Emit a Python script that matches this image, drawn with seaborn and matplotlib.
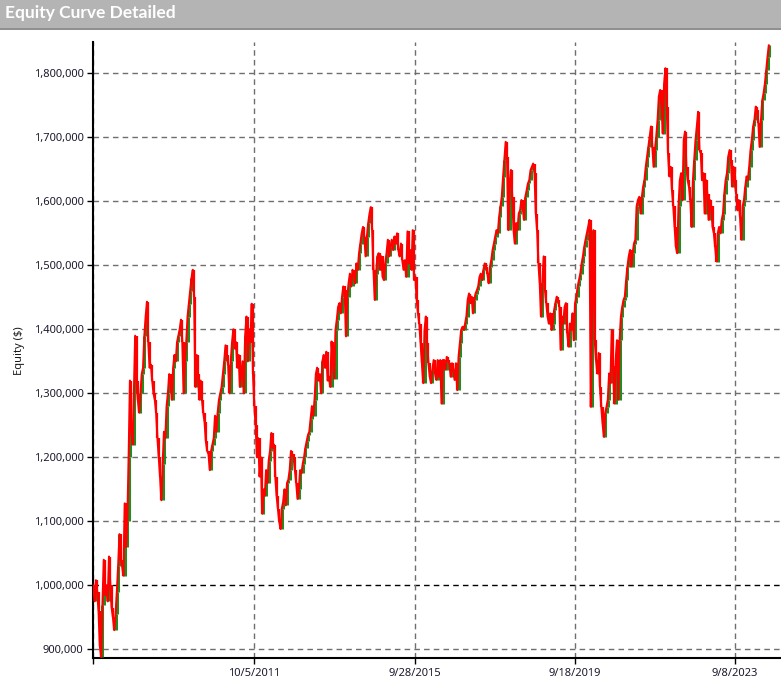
import numpy as np
import pandas as pd
import matplotlib
matplotlib.use("Agg")
import matplotlib.pyplot as plt
import seaborn as sns

# Equity values in thousands of dollars left to right
equity_k = [
    1000, 975, 1008, 990, 960, 905, 888, 970, 1040, 985, 1000, 975, 1045, 1000, 965, 950,
    930, 955, 990, 1030, 1080, 1040, 1030, 1015, 1128, 1060, 1100, 1200, 1320, 1240, 1220,
    1300, 1390, 1320, 1290, 1270, 1300, 1330, 1340, 1390, 1420, 1443, 1380, 1340, 1345, 1320,
    1300, 1290, 1270, 1230, 1200, 1170, 1133, 1190, 1240, 1230, 1280, 1300, 1330, 1320, 1290,
    1340, 1360, 1350, 1380, 1390, 1400, 1415, 1380, 1300, 1350, 1380, 1420, 1440, 1460, 1480,
    1493, 1450, 1310, 1360, 1330, 1290, 1320, 1290, 1270, 1255, 1225, 1210, 1205, 1180, 1210,
    1220, 1230, 1265, 1240, 1270, 1290, 1300, 1310, 1330, 1350, 1375, 1360, 1345, 1300, 1350,
    1380, 1400, 1370, 1380, 1340, 1360, 1310, 1330, 1350, 1300, 1390, 1420, 1350, 1400, 1380,
    1440, 1330, 1280, 1250, 1200, 1230, 1170, 1200, 1112, 1150, 1140, 1180, 1160, 1195, 1210,
    1238, 1215, 1220, 1170, 1140, 1120, 1100, 1088, 1120, 1130, 1150, 1125, 1160, 1165, 1180,
    1210, 1205, 1200, 1180, 1160, 1135, 1150, 1180, 1175, 1190, 1200, 1215, 1225, 1235, 1240,
    1260, 1280, 1265, 1290, 1330, 1340, 1320, 1330, 1300, 1350, 1360, 1340, 1365, 1320,
    # 2011 - 2019
    1326, 1310, 1381, 1347, 1323, 1399, 1415, 1435, 1441, 1425, 1451, 1467, 1461, 1389, 1451,
    1472, 1487, 1467, 1493, 1487, 1472, 1503, 1493, 1519, 1534, 1550, 1560, 1545, 1514, 1545,
    1566, 1581, 1591, 1555, 1493, 1446, 1487, 1514, 1519, 1493, 1514, 1482, 1477, 1503, 1519,
    1540, 1514, 1529, 1540, 1524, 1545, 1534, 1550, 1524, 1514, 1534, 1508, 1493, 1508, 1482,
    1553, 1503, 1524, 1493, 1555, 1477, 1482, 1446, 1425, 1409, 1378, 1347, 1316, 1399, 1420,
    1378, 1347, 1326, 1316, 1337, 1352, 1331, 1321, 1352, 1326, 1352, 1284, 1352, 1352, 1337,
    1357, 1352, 1347, 1326, 1347, 1337, 1321, 1347, 1305, 1357, 1378, 1399, 1404, 1399, 1409,
    1420, 1446, 1456, 1441, 1451, 1425, 1446, 1456, 1461, 1467, 1482, 1487, 1477, 1493, 1503,
    1498, 1487, 1472, 1498, 1508, 1524, 1534, 1545, 1555, 1550, 1576, 1592, 1607, 1638, 1665,
    1693, 1670, 1555, 1628, 1649, 1607, 1555, 1534, 1566, 1555, 1581, 1586, 1602, 1591, 1571,
    1607, 1617, 1628, 1633, 1649, 1654, 1659, 1644, 1581, 1555, 1503, 1472, 1420, 1472, 1514,
    1461, 1441, 1420, 1409, 1425, 1399, 1409, 1430, 1441, 1451,
    # 2019 - 2024
    1446, 1435, 1368, 1420, 1409, 1435, 1441, 1394, 1373, 1409, 1399, 1425, 1383, 1441, 1451,
    1467, 1477, 1487, 1503, 1514, 1529, 1540, 1550, 1560, 1571, 1279, 1435, 1555, 1383, 1352,
    1331, 1363, 1310, 1279, 1253, 1232, 1269, 1279, 1290, 1331, 1316, 1399, 1342, 1284, 1352,
    1383, 1290, 1383, 1420, 1435, 1446, 1451, 1477, 1498, 1514, 1524, 1498, 1519, 1534, 1540,
    1592, 1602, 1607, 1581, 1607, 1623, 1633, 1654, 1670, 1685, 1701, 1717, 1685, 1654, 1680,
    1701, 1727, 1764, 1774, 1748, 1706, 1784, 1808, 1748, 1675, 1639, 1654, 1618, 1592, 1560,
    1529, 1519, 1592, 1633, 1644, 1602, 1696, 1709, 1654, 1633, 1623, 1602, 1560, 1633, 1665,
    1696, 1717, 1740, 1680, 1675, 1633, 1644, 1581, 1633, 1612, 1571, 1602, 1592, 1560, 1550,
    1529, 1506, 1550, 1560, 1550, 1571, 1581, 1612, 1633, 1644, 1670, 1680, 1665, 1623, 1654,
    1633, 1612, 1586, 1602, 1576, 1540, 1592, 1602, 1623, 1639, 1633, 1654, 1680, 1696, 1717,
    1727, 1748, 1743, 1722, 1685, 1727, 1758, 1769, 1784, 1805, 1826, 1844,
]

tick_dates = ["2011-10-05", "2015-09-28", "2019-09-18", "2023-09-08"]
tick_labels = ["10/5/2011", "9/28/2015", "9/18/2019", "9/8/2023"]
start_date = "2007-10-06"
end_date = "2024-07-10"

equity = np.array(equity_k) * 1000
dates = pd.date_range(start_date, end_date, periods=len(equity))
df = pd.DataFrame({"date": dates, "equity": equity})

sns.set_style("white")
plt.rcParams["font.family"] = ["Noto Sans", "DejaVu Sans"]

fig = plt.figure(figsize=(7.81, 6.86), dpi=100)

# Title bar
fig.patches.append(plt.Rectangle((0, 1 - 28 / 686), 1, 28 / 686, transform=fig.transFigure,
                                 facecolor="#b4b4b4", edgecolor="none", zorder=0))
fig.lines.append(plt.Line2D([0, 1], [1 - 28.5 / 686] * 2, transform=fig.transFigure,
                            color="#7a7a7a", lw=1.2))
fig.text(0.007, 1 - 13 / 686, "Equity Curve Detailed", color="white", fontsize=12.5,
         fontweight="bold", va="center", ha="left", family=["Lato", "DejaVu Sans"])

ax = fig.add_axes([93.3 / 781, 1 - 658.3 / 686, 1 - 93.3 / 781, (658.3 - 42) / 686])

prev = df["equity"].shift(1)
up = df["equity"] > prev
dn = df["equity"] < prev
# green up-moves underneath, red curve and red down-moves on top
ax.vlines(df["date"][up], prev[up], df["equity"][up], colors="#228b22", lw=2.2, zorder=3)
sns.lineplot(data=df, x="date", y="equity", color="#ff0000", lw=1.5, ax=ax, zorder=4)
ax.vlines(df["date"][dn], df["equity"][dn], prev[dn], colors="#ff0000", lw=1.6, zorder=5)

ax.set_ylim(886000, 1849000)
x0 = pd.Timestamp(start_date)
ax.set_xlim(x0, pd.Timestamp(end_date) + pd.Timedelta(days=110))

yt = np.arange(900000, 1800001, 100000)
ax.set_yticks(yt)
ax.set_yticklabels([f"{v:,.0f}" for v in yt])
xt = [x0] + [pd.Timestamp(d) for d in tick_dates]
ax.set_xticks(xt)
ax.set_xticklabels([""] + tick_labels)

for v in yt:
    ax.axhline(v, color="black" if v == 1000000 else "#6e6e6e", lw=1,
               ls=(0, (4, 3)), zorder=1)
for d in xt:
    ax.axvline(d, color="#6e6e6e", lw=1, ls=(0, (4, 3)), zorder=1)

for s in ["top", "right"]:
    ax.spines[s].set_visible(False)
for s in ["left", "bottom"]:
    ax.spines[s].set_color("black")
    ax.spines[s].set_linewidth(1.5)

ax.tick_params(axis="both", which="major", length=4, width=1, color="black",
               labelsize=8, labelcolor="#1a1a2e", left=True, bottom=True, pad=3)
ax.set_xlabel("")
ax.set_ylabel("Equity ($)", fontsize=8, color="#1a1a1a", labelpad=6)

fig.savefig("out.png", dpi=100)
